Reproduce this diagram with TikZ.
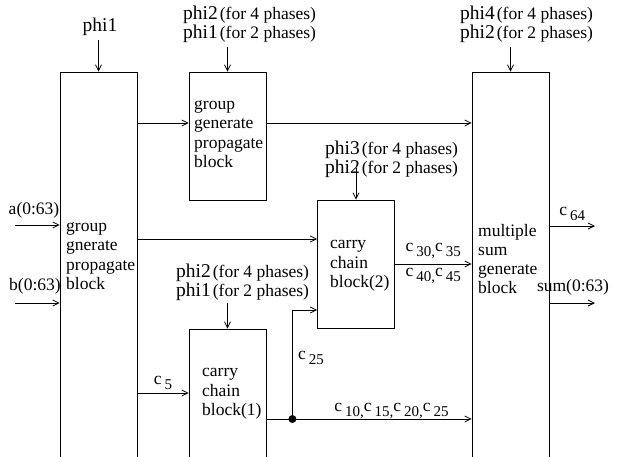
\documentclass[tikz,border=0pt]{standalone}
\usepackage{fontspec}
\setmainfont{Liberation Serif}
\usetikzlibrary{arrows.meta, positioning}

\newcommand{\csubs}[1]{c\kern3pt\raisebox{-5pt}{\fontsize{15}{15}\selectfont #1}}
\newcommand{\phase}[2]{{\fontsize{19.5}{17}\selectfont #1}\kern2pt(for #2 phases)}

\begin{document}
\begin{tikzpicture}[
        x=1pt, y=-1pt,
        block/.style={draw, line width=0.8pt, minimum width=77pt, inner sep=0pt},
        sig/.style={-{Straight Barb[length=6pt, width=6pt]}, line width=0.8pt},
        txt/.style={align=left, inner sep=0pt, font=\fontsize{17.5}{19.3}\selectfont},
        clk/.style={align=left, inner sep=0pt, anchor=west, font=\fontsize{17.5}{17}\selectfont},
        dot/.style={circle, fill, inner sep=0pt, minimum size=8pt}
    ]
        \useasboundingbox (0,0) rectangle (617,456);
        \clip (0,0) rectangle (617,456);

        % Blocks
        \node[block, minimum height=400pt] (ggpa) at (98.5,272) {};
        \node[block, minimum height=128pt] (ggpb) at (227.5,136) {};
        \node[block, minimum height=128pt] (ccbb) at (356,264) {};
        \node[block, minimum height=143pt] (ccba) at (227.5,400.5) {};
        \node[block, minimum height=400pt] (msg) at (510.5,272) {};

        % Block texts
        \node[txt, anchor=west] (ggpatxt) at (66,256) {group\\gnerate\\propagate\\block};
        \node[txt, anchor=west] (ggpbtxt) at (194,134) {group\\generate\\propagate\\block};
        \node[txt, anchor=west] (ccbbtxt) at (330,266) {carry\\chain\\block(2)};
        \node[txt, anchor=west] (ccbatxt) at (202,394) {carry\\chain\\block(1)};
        \node[txt, anchor=west] (msgtxt) at (478,259) {multiple\\sum\\generate\\block};

        % Clock phases
        \node[txt, font=\fontsize{19.5}{20}\selectfont] (pha) at (100,27) {phi1};
        \node[clk] (phb) at (183,24) {\phase{phi2}{4}\\\phase{phi1}{2}};
        \node[clk] (phc) at (325,159) {\phase{phi3}{4}\\\phase{phi2}{2}};
        \node[clk] (phd) at (176,282) {\phase{phi2}{4}\\\phase{phi1}{2}};
        \node[clk] (phe) at (460,24) {\phase{phi4}{4}\\\phase{phi2}{2}};
        \draw[sig] ([yshift=32pt]ggpa.north) -- (ggpa.north);
        \draw[sig] ([yshift=25pt]ggpb.north) -- (ggpb.north);
        \draw[sig] ([yshift=32pt]ccbb.north) -- (ccbb.north);
        \draw[sig] ([yshift=26pt]ccba.north) -- (ccba.north);
        \draw[sig] ([yshift=25pt]msg.north) -- (msg.north);

        % Inputs
        \coordinate (ain) at (15,225);
        \coordinate (bin) at (15,303);
        \draw[sig] (ain) -- (ain -| ggpa.west);
        \draw[sig] (bin) -- (bin -| ggpa.west);
        \node[txt] (atxt) at (34,210) {a(0:63)};
        \node[txt] (btxt) at (35,286) {b(0:63)};

        % Internal flows
        \draw[sig] ([yshift=13pt]ggpb.west -| ggpa.east) -- ([yshift=13pt]ggpb.west);
        \draw[sig] ([yshift=13pt]ggpb.east) -- ([yshift=13pt]ggpb.east -| msg.west);
        \draw[sig] ([yshift=25pt]ccbb.west -| ggpa.east) -- ([yshift=25pt]ccbb.west);
        \draw[sig] (ccbb.east) -- (ccbb.east -| msg.west)
            node[midway, above=5pt, txt] {\csubs{30,}\csubs{35}}
            node[midway, below=4pt, txt] {\csubs{40,}\csubs{45}};
        \draw[sig] ([yshift=7.5pt]ccba.west -| ggpa.east) -- ([yshift=7.5pt]ccba.west)
            node[midway, above=3pt, txt] {\csubs{5}};
        \draw[sig] ([yshift=-18.5pt]ccba.east) -- ([yshift=-18.5pt]ccba.east -| msg.west)
            node[pos=0.61, above=0pt, txt] {\csubs{10,}\csubs{15,}\csubs{20,}\csubs{25}};
        \node[dot] (jn) at ([xshift=26pt, yshift=-18.5pt]ccba.east) {};
        \draw[sig] (jn.center) |- ([yshift=-46pt]ccbb.west);
        \node[txt, anchor=west] (c25txt) at (298,358) {\csubs{25}};

        % Outputs
        \coordinate (cout) at (595,226);
        \coordinate (sout) at (595,303);
        \draw[sig] (cout -| msg.east) -- (cout)
            node[midway, above=5pt, txt] {\csubs{64}};
        \draw[sig] (sout -| msg.east) -- (sout);
        \node[txt] (sumtxt) at (573,287) {sum(0:63)};

    \end{tikzpicture}
\end{document}
